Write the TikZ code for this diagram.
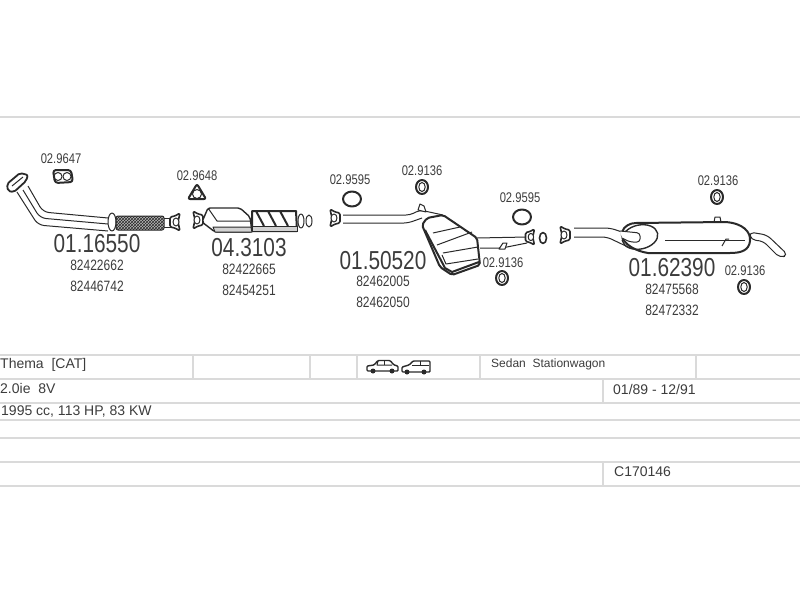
\documentclass[tikz,border=0pt]{standalone}
\usepackage{fontspec}
\setmainfont{Liberation Sans}
\newfontfamily\narrowfont[FakeStretch=0.8]{Liberation Sans}
\usetikzlibrary{patterns}
\definecolor{partink}{HTML}{2A2A2A}
\definecolor{rulegray}{HTML}{DADADA}
\definecolor{labelink}{HTML}{3C3C3C}
\tikzset{
  partline/.style={draw=partink,line width=1pt,line join=round},
  thickline/.style={draw=partink,line width=2pt,line join=round},
  rule/.style={draw=rulegray,line width=1.7pt},
  bignum/.style={text=labelink,inner sep=0pt,font=\narrowfont\fontsize{26}{26}\selectfont},
  refnum/.style={text=labelink,inner sep=0pt,font=\narrowfont\fontsize{15}{15}\selectfont},
  smallnum/.style={text=labelink,inner sep=0pt,font=\narrowfont\fontsize{14}{14}\selectfont},
  celltext/.style={text=labelink,inner sep=0pt,anchor=west,font=\fontsize{14}{14}\selectfont},
  ring/.pic={\draw[thickline,fill=white] (0,0) ellipse [x radius=6,y radius=7];
    \draw[partline] (0,0) ellipse [x radius=3.2,y radius=4.5];},
  flatring/.pic={\draw[thickline,fill=white] (0,0) ellipse [x radius=9,y radius=7.5];},
  flange/.pic={\draw[partline,fill=white,line width=1.6pt,rounded corners=1.5pt]
      (-5,-9) -- (0,-6) -- (5,-5) -- (5,5) -- (0,6) -- (-5,9) -- (-3,0) -- cycle;
    \draw[partline,fill=white] (-1,0) ellipse [x radius=3,y radius=4];},
}
\begin{document}
\begin{tikzpicture}[x=1pt,y=-1pt]
\useasboundingbox (0,0) rectangle (800,600);

% rules of the sheet and table
\draw[rule] (0,117) -- (800,117);
\foreach \ypos in {355,379,403,420,438,462,486}
  \draw[rule] (0,\ypos) -- (800,\ypos);
\foreach \xpos in {193,310,357,480,696}
  \draw[rule] (\xpos,355) -- (\xpos,379);
\draw[rule] (603,379) -- (603,403);
\draw[rule] (603,462) -- (603,486);

% front pipe
\draw[partline,rounded corners=6pt] (28,186) -- (43,212) -- (108,218);
\draw[partline,rounded corners=6pt] (17,192) -- (38,225) -- (108,231);
\draw[partline,rounded corners=6pt] (23,190) -- (40,218) -- (108,224);
\draw[partline,fill=white,line width=1.8pt,rounded corners=2pt] (7,184) -- (20,173) -- (28,175) -- (26,181) -- (14,192) -- (8,191) -- cycle;
\draw[partline] (12,186) -- (23,177);
\draw[partline,fill=white] (112,222) ellipse [x radius=4,y radius=9];
\draw[partline,fill=gray!55,rounded corners=2pt] (116,216) rectangle (164,230);
\fill[pattern=crosshatch,pattern color=partink,rounded corners=2pt] (116,216) rectangle (164,230);
\draw[partline] (164,218) -- (172,218);
\draw[partline] (164,227) -- (172,227);
\pic at (175,222) [xscale=-1] {flange};

% catalyst
\pic at (198,220) {flange};
\draw[thickline,fill=white] (252,211) -- (296,211) -- (297,231) -- (252,231) -- cycle;
\draw[partline,fill=gray!35] (252,226) -- (297,226) -- (297,231) -- (252,231) -- cycle;
\foreach \xpos in {256,268,280}
  \draw[thickline] (\xpos,211) -- (\xpos+8,226);
\draw[partline,fill=white,line width=1.4pt,rounded corners=2pt] (202,222) -- (208,208) -- (240,208) -- (250,217) -- (252,232) -- (215,232) -- cycle;
\draw[partline] (208,208) -- (217,221) -- (250,221);
\draw[partline,fill=gray!35] (215,232) -- (252,232) -- (251,227) -- (213,227) -- cycle;
\draw[partline,fill=white] (301,221) ellipse [x radius=3,y radius=7];
\draw[partline,fill=white] (309,221) ellipse [x radius=3,y radius=6];

% centre silencer
\pic at (335,218) {flange};
\draw[partline,rounded corners=4pt] (343,215) -- (410,215) -- (420,210) -- (443,215);
\draw[partline,rounded corners=4pt] (343,223) -- (408,223) -- (422,218);
\draw[partline,fill=white] (418,210) -- (420,204) -- (424,206) -- (426,212) -- cycle;
\draw[thickline,fill=white,rounded corners=2pt] (422,225) -- (427,218) -- (443,215) -- (477,238) -- (480,265) -- (452,275) -- (440,267) -- cycle;
\draw[partline] (433,233) -- (460,227);
\draw[partline] (437,245) -- (472,232);
\draw[partline] (443,253) -- (478,247);
\draw[thickline] (425,230) -- (445,268) -- (452,272) -- (479,262);
\draw[partline] (442,255) -- (446,264) -- (478,259);
\draw[partline,rounded corners=3pt] (477,238) -- (527,237);
\draw[partline,rounded corners=3pt] (480,248) -- (502,248) -- (527,243);
\draw[partline,fill=white] (499,249) -- (503,243) -- (507,243) -- (505,249) -- cycle;
\pic at (530,237) [xscale=-1,scale=0.9] {flange};
\draw[partline,fill=white,line width=1.6pt] (543,238) ellipse [x radius=3.5,y radius=5.5];

% rear silencer
\pic at (565,235) {flange};
\draw[partline,rounded corners=5pt] (574,228) -- (610,228) -- (622,232);
\draw[partline,rounded corners=5pt] (574,237) -- (607,237) -- (630,248);
\draw[partline,fill=white,rounded corners=5pt] (749,232) -- (767,235) -- (788,255) -- (780,258) -- (763,241) -- (751,240) -- cycle;
\draw[thickline,fill=white] (636,223) -- (725,222) .. controls (743,223) and (751,232) .. (750,241) .. controls (749,250) and (742,253) .. (730,253) -- (648,253) .. controls (630,250) and (620,240) .. (622,232) .. controls (624,226) and (630,223) .. (636,223) -- cycle;
\draw[partline,line width=1.4pt,rotate around={12:(640,237)}] (640,237) ellipse [x radius=18,y radius=12];
\draw[partline,fill=white,rounded corners=3pt] (620,231) -- (640,233) -- (640,242) -- (630,242) -- (622,238);
\draw[partline] (665,240) -- (745,240);
\draw[partline] (722,246) -- (726,239) -- (729,239);
\draw[partline] (714,222) -- (715,217) -- (720,217) -- (721,222);

% loose gaskets
\draw[thickline,fill=white,rounded corners=3pt] (53,170) -- (71,170) -- (73,182) -- (55,183) -- cycle;
\draw[partline] (58,176.5) circle (4);
\draw[partline] (67,176.5) circle (4);
\draw[thickline,fill=white,rounded corners=2pt] (197,184) -- (206,199) -- (188,199) -- cycle;
\draw[partline] (197,194) circle (4.5);
\pic at (352,199) {flatring};
\pic at (522,217) {flatring};
\pic at (422,187) {ring};
\pic at (502,278) {ring};
\pic at (717,197) {ring};
\pic at (744,287) {ring};

% part numbers
\node[bignum] (frontPipe) at (97,244) {01.16550};
\node[refnum] (frontRefA) at (97,265) {82422662};
\node[refnum] (frontRefB) at (97,286) {82446742};
\node[bignum] (catPart) at (249,248) {04.3103};
\node[refnum] (catRefA) at (249,269) {82422665};
\node[refnum] (catRefB) at (249,290) {82454251};
\node[bignum] (midPart) at (383,261) {01.50520};
\node[refnum] (midRefA) at (383,281) {82462005};
\node[refnum] (midRefB) at (383,302) {82462050};
\node[bignum] (rearPart) at (672,268) {01.62390};
\node[refnum] (rearRefA) at (672,289) {82475568};
\node[refnum] (rearRefB) at (672,310) {82472332};
\node[smallnum] (gasketA) at (61,159) {02.9647};
\node[smallnum] (gasketB) at (197,176) {02.9648};
\node[smallnum] (gasketC) at (350,180) {02.9595};
\node[smallnum] (gasketD) at (422,171) {02.9136};
\node[smallnum] (gasketE) at (520,198) {02.9595};
\node[smallnum] (gasketF) at (503,263) {02.9136};
\node[smallnum] (gasketG) at (718,181) {02.9136};
\node[smallnum] (gasketH) at (745,271) {02.9136};

% table texts
\node[celltext] (model) at (0,365) {Thema\ \ [CAT]};
\node[celltext] (engine) at (0,388) {2.0ie\ \ 8V};
\node[celltext] (power) at (1,412) {1995 cc, 113 HP, 83 KW};
\node[celltext,font=\fontsize{12}{12}\selectfont] (body) at (491,364) {Sedan\ \ Stationwagon};
\node[celltext] (years) at (613,389) {01/89 - 12/91};
\node[celltext] (code) at (614,472) {C170146};

% car icons
\draw[partline,line width=1.4pt,fill=white,rounded corners=1pt] (367,371) -- (367,366) -- (374,365) -- (378,360.5) -- (390,360.5) -- (394,365) -- (398,366) -- (398,371) -- cycle;
\draw[partline] (378,361) -- (377,365) -- (392,365);
\draw[partline] (384,361) -- (384,365);
\fill[partink] (373,371) circle (2.5) (392,371) circle (2.5);
\draw[partline,line width=1.4pt,fill=white,rounded corners=1pt] (402,372) -- (402,367) -- (409,365) -- (413,361) -- (430,361) -- (430,372) -- cycle;
\draw[partline] (412,365) -- (429,365);
\draw[partline] (420,361) -- (420,365);
\fill[partink] (407,372) circle (2.5) (424,372) circle (2.5);

\end{tikzpicture}
\end{document}
